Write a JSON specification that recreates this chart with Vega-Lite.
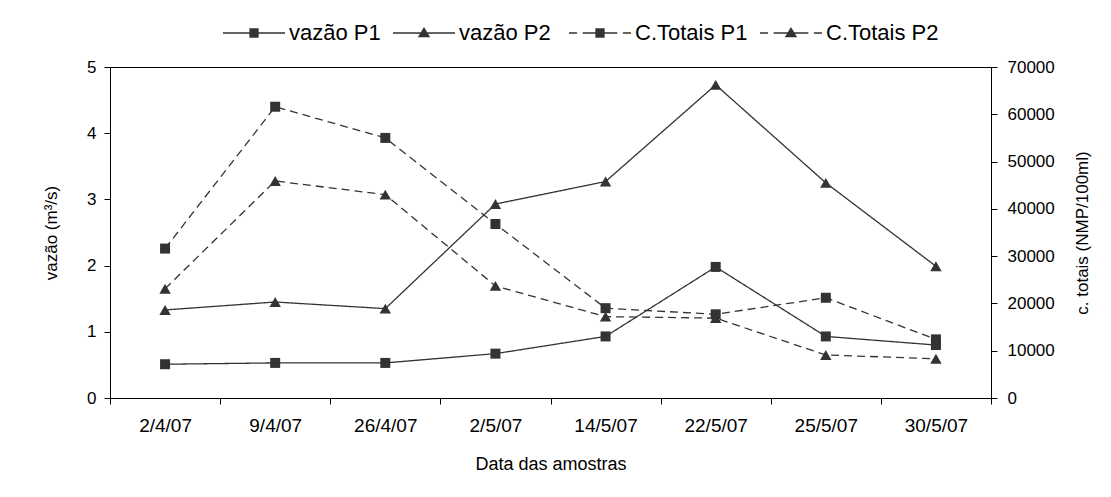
{
  "$schema": "https://vega.github.io/schema/vega-lite/v6.json",
  "width": 881,
  "height": 331,
  "autosize": {"type": "none"},
  "padding": {"left": 110, "top": 67, "right": 120, "bottom": 99},
  "background": "white",
  "config": {
    "font": "Liberation Sans",
    "view": {"stroke": "#000", "strokeWidth": 1},
    "axis": {
      "domainColor": "#000",
      "tickColor": "#000",
      "labelColor": "#000",
      "titleColor": "#000",
      "titleFontWeight": "normal",
      "grid": false,
      "labelFontSize": 17,
      "titleFontSize": 17,
      "tickSize": 6
    },
    "legend": {
      "title": null,
      "orient": "none",
      "legendX": 113,
      "legendY": -65,
      "direction": "horizontal",
      "columns": 4,
      "symbolSize": 3844,
      "symbolStrokeWidth": 0,
      "symbolFillColor": "#333",
      "symbolStrokeColor": "#333",
      "symbolOpacity": 1,
      "labelFontSize": 22,
      "labelColor": "#000",
      "labelOffset": 4,
      "columnPadding": 12
    }
  },
  "data": {
    "values": [
      {"data": "2/4/07", "serie": "vazão P1", "eixo": "vazao", "valor": 0.51},
      {"data": "9/4/07", "serie": "vazão P1", "eixo": "vazao", "valor": 0.53},
      {"data": "26/4/07", "serie": "vazão P1", "eixo": "vazao", "valor": 0.53},
      {"data": "2/5/07", "serie": "vazão P1", "eixo": "vazao", "valor": 0.67},
      {"data": "14/5/07", "serie": "vazão P1", "eixo": "vazao", "valor": 0.93},
      {"data": "22/5/07", "serie": "vazão P1", "eixo": "vazao", "valor": 1.98},
      {"data": "25/5/07", "serie": "vazão P1", "eixo": "vazao", "valor": 0.93},
      {"data": "30/5/07", "serie": "vazão P1", "eixo": "vazao", "valor": 0.8},
      {"data": "2/4/07", "serie": "vazão  P2", "eixo": "vazao", "valor": 1.33},
      {"data": "9/4/07", "serie": "vazão  P2", "eixo": "vazao", "valor": 1.45},
      {"data": "26/4/07", "serie": "vazão  P2", "eixo": "vazao", "valor": 1.35},
      {"data": "2/5/07", "serie": "vazão  P2", "eixo": "vazao", "valor": 2.93},
      {"data": "14/5/07", "serie": "vazão  P2", "eixo": "vazao", "valor": 3.27},
      {"data": "22/5/07", "serie": "vazão  P2", "eixo": "vazao", "valor": 4.73},
      {"data": "25/5/07", "serie": "vazão  P2", "eixo": "vazao", "valor": 3.25},
      {"data": "30/5/07", "serie": "vazão  P2", "eixo": "vazao", "valor": 1.99},
      {"data": "2/4/07", "serie": "C.Totais P1", "eixo": "totais", "valor": 31600},
      {"data": "9/4/07", "serie": "C.Totais P1", "eixo": "totais", "valor": 61600},
      {"data": "26/4/07", "serie": "C.Totais P1", "eixo": "totais", "valor": 55000},
      {"data": "2/5/07", "serie": "C.Totais P1", "eixo": "totais", "valor": 36800},
      {"data": "14/5/07", "serie": "C.Totais P1", "eixo": "totais", "valor": 19000},
      {"data": "22/5/07", "serie": "C.Totais P1", "eixo": "totais", "valor": 17700},
      {"data": "25/5/07", "serie": "C.Totais P1", "eixo": "totais", "valor": 21200},
      {"data": "30/5/07", "serie": "C.Totais P1", "eixo": "totais", "valor": 12400},
      {"data": "2/4/07", "serie": "C.Totais P2", "eixo": "totais", "valor": 23100},
      {"data": "9/4/07", "serie": "C.Totais P2", "eixo": "totais", "valor": 45900},
      {"data": "26/4/07", "serie": "C.Totais P2", "eixo": "totais", "valor": 43000},
      {"data": "2/5/07", "serie": "C.Totais P2", "eixo": "totais", "valor": 23700},
      {"data": "14/5/07", "serie": "C.Totais P2", "eixo": "totais", "valor": 17200},
      {"data": "22/5/07", "serie": "C.Totais P2", "eixo": "totais", "valor": 16900},
      {"data": "25/5/07", "serie": "C.Totais P2", "eixo": "totais", "valor": 9100},
      {"data": "30/5/07", "serie": "C.Totais P2", "eixo": "totais", "valor": 8300}
    ]
  },
  "encoding": {
    "x": {
      "field": "data",
      "type": "ordinal",
      "sort": ["2/4/07", "9/4/07", "26/4/07", "2/5/07", "14/5/07", "22/5/07", "25/5/07", "30/5/07"],
      "scale": {"paddingInner": 0, "paddingOuter": 0},
      "axis": {
        "title": "Data  das amostras",
        "labelAngle": 0,
        "tickBand": "extent",
        "labelFontSize": 19,
        "labelPadding": 12,
        "titleFontSize": 18,
        "titlePadding": 20
      }
    },
    "order": {"value": null}
  },
  "layer": [
    {
      "transform": [{"filter": "datum.eixo == 'vazao'"}],
      "encoding": {
        "y": {
          "field": "valor",
          "type": "quantitative",
          "scale": {"domain": [0, 5]},
          "axis": {"title": "vazão (m³/s)", "values": [0, 1, 2, 3, 4, 5], "labelPadding": 8, "titlePadding": 26}
        }
      },
      "layer": [
        {
          "mark": {"type": "point", "filled": true, "color": "#333", "strokeWidth": 0, "size": 0, "opacity": 1},
          "encoding": {
            "shape": {
              "field": "serie",
              "type": "nominal",
              "scale": {
                "domain": ["vazão P1", "vazão  P2", "C.Totais P1", "C.Totais P2"],
                "range": [
                  "M-1,-0.022L1,-0.022L1,0.022L-1,0.022ZM-0.15,-0.15L0.15,-0.15L0.15,0.15L-0.15,0.15Z",
                  "M-1,-0.022L1,-0.022L1,0.022L-1,0.022ZM0,-0.19L0.2,0.14L-0.2,0.14Z",
                  "M-1,-0.022L-0.74,-0.022L-0.74,0.022L-1,0.022ZM-0.56,-0.022L-0.1,-0.022L-0.1,0.022L-0.56,0.022ZM0.1,-0.022L0.56,-0.022L0.56,0.022L0.1,0.022ZM0.74,-0.022L1,-0.022L1,0.022L0.74,0.022ZM-0.15,-0.15L0.15,-0.15L0.15,0.15L-0.15,0.15Z",
                  "M-1,-0.022L-0.74,-0.022L-0.74,0.022L-1,0.022ZM-0.56,-0.022L-0.1,-0.022L-0.1,0.022L-0.56,0.022ZM0.1,-0.022L0.56,-0.022L0.56,0.022L0.1,0.022ZM0.74,-0.022L1,-0.022L1,0.022L0.74,0.022ZM0,-0.19L0.2,0.14L-0.2,0.14Z"
                ]
              }
            }
          }
        },
        {
          "mark": {"type": "line", "color": "#333", "strokeWidth": 1.3},
          "encoding": {
            "strokeDash": {
              "field": "serie",
              "type": "nominal",
              "scale": {
                "domain": ["vazão P1", "vazão  P2", "C.Totais P1", "C.Totais P2"],
                "range": [[1, 0], [1, 0], [8, 5], [8, 5]]
              }
            }
          }
        },
        {
          "mark": {"type": "point", "filled": true, "color": "#333", "opacity": 1},
          "encoding": {
            "shape": {"condition": {"test": "indexof(datum.serie, 'P1') >= 0", "value": "square"}, "value": "triangle-up"},
            "size": {"condition": {"test": "indexof(datum.serie, 'P1') >= 0", "value": 100}, "value": 130}
          }
        }
      ]
    },
    {
      "transform": [{"filter": "datum.eixo == 'totais'"}],
      "encoding": {
        "y": {
          "field": "valor",
          "type": "quantitative",
          "scale": {"domain": [0, 70000]},
          "axis": {
            "orient": "right",
            "title": "c. totais (NMP/100ml)",
            "titleAngle": -90,
            "values": [0, 10000, 20000, 30000, 40000, 50000, 60000, 70000],
            "format": "d",
            "labelPadding": 10,
            "titlePadding": 37
          }
        }
      },
      "layer": [
        {
          "mark": {"type": "line", "color": "#333", "strokeWidth": 1.3},
          "encoding": {
            "strokeDash": {"field": "serie", "type": "nominal"}
          }
        },
        {
          "mark": {"type": "point", "filled": true, "color": "#333", "opacity": 1},
          "encoding": {
            "shape": {"condition": {"test": "indexof(datum.serie, 'P1') >= 0", "value": "square"}, "value": "triangle-up"},
            "size": {"condition": {"test": "indexof(datum.serie, 'P1') >= 0", "value": 100}, "value": 130}
          }
        }
      ]
    }
  ],
  "resolve": {"scale": {"y": "independent"}, "axis": {"y": "independent"}}
}
